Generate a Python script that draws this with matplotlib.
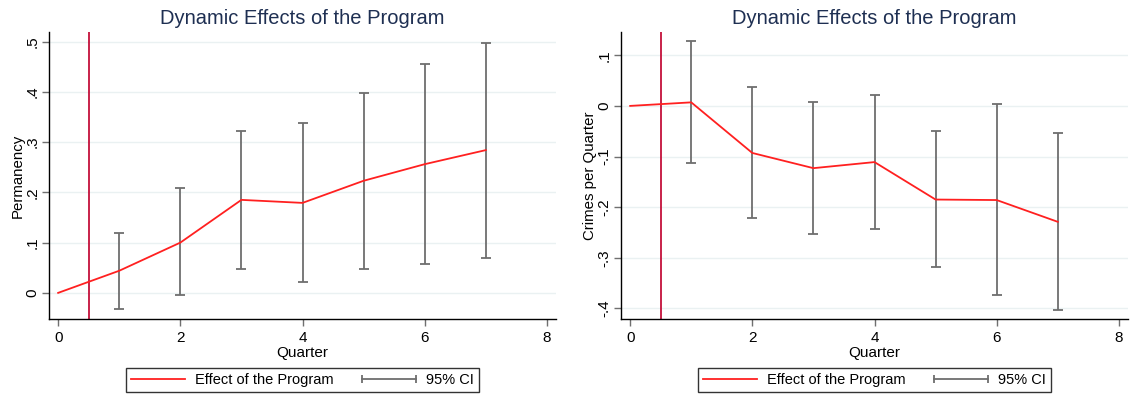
import matplotlib
matplotlib.use("Agg")
import matplotlib.pyplot as plt
from matplotlib.lines import Line2D
from matplotlib.legend_handler import HandlerLine2D
from matplotlib.ticker import FuncFormatter

plt.rcParams['font.family'] = ['Liberation Sans', 'DejaVu Sans']

quarters = [0, 1, 2, 3, 4, 5, 6, 7]

# Permanency
perm_effect = [0.0, 0.044, 0.100, 0.185, 0.179, 0.223, 0.256, 0.284]
perm_lo = [None, -0.033, -0.005, 0.047, 0.021, 0.048, 0.058, 0.070]
perm_hi = [None, 0.120, 0.208, 0.323, 0.338, 0.397, 0.455, 0.498]
perm_yticks = [0, 0.1, 0.2, 0.3, 0.4, 0.5]

# Crimes per quarter
crime_effect = [0.0, 0.007, -0.093, -0.123, -0.111, -0.185, -0.186, -0.229]
crime_lo = [None, -0.113, -0.222, -0.253, -0.244, -0.319, -0.374, -0.403]
crime_hi = [None, 0.128, 0.037, 0.007, 0.022, -0.049, 0.003, -0.054]
crime_yticks = [-0.4, -0.3, -0.2, -0.1, 0, 0.1]

xticks = [0, 2, 4, 6, 8]
treatment_start = 0.5

TITLE_COLOR = '#1e2f52'
EFFECT_COLOR = '#ff2020'
CI_COLOR = '#6e6e6e'
VLINE_COLOR = '#c4103a'
GRID_COLOR = '#eaf1f2'


def stata_fmt(v, pos):
    if abs(v) < 1e-9:
        return '0'
    s = f'{v:.1f}'
    return s.replace('0.', '.')


def panel(ax, effect, lo, hi, yticks, ylim, ylabel):
    ax.axvline(treatment_start, color=VLINE_COLOR, lw=1.3, zorder=2)
    xs = [q for q, l in zip(quarters, lo) if l is not None]
    los = [l for l in lo if l is not None]
    his = [h for h in hi if h is not None]
    ax.vlines(xs, los, his, color=CI_COLOR, lw=1.3, zorder=3)
    ax.plot(xs, los, linestyle='none', marker='_', ms=7, mew=1.3, color=CI_COLOR, zorder=3)
    ax.plot(xs, his, linestyle='none', marker='_', ms=7, mew=1.3, color=CI_COLOR, zorder=3)
    ax.plot(quarters, effect, color=EFFECT_COLOR, lw=1.3, zorder=4)

    ax.set_xlim(-0.15, 8.15)
    ax.set_ylim(*ylim)
    ax.set_xticks(xticks)
    ax.set_yticks(yticks)
    ax.yaxis.set_major_formatter(FuncFormatter(stata_fmt))
    ax.grid(axis='y', color=GRID_COLOR, lw=1.0, zorder=0)
    ax.set_axisbelow(True)
    for side in ('top', 'right'):
        ax.spines[side].set_visible(False)
    for side in ('left', 'bottom'):
        ax.spines[side].set_color('black')
        ax.spines[side].set_linewidth(1.0)
    ax.tick_params(axis='both', direction='out', length=5, width=1.0,
                   color='#707070', labelsize=11)
    ax.tick_params(axis='y', pad=2)
    for lab in ax.get_yticklabels():
        lab.set_rotation(90)
        lab.set_va('center')
    ax.set_title('Dynamic Effects of the Program', color=TITLE_COLOR,
                 fontsize=14.5, pad=6)
    ax.set_xlabel('Quarter', fontsize=11, labelpad=1)
    ax.set_ylabel(ylabel, fontsize=10.8, labelpad=0.5)

    effect_handle = Line2D([], [], color=EFFECT_COLOR, lw=1.3)
    ci_handle = Line2D([], [], color=CI_COLOR, lw=1.3, marker='|', ms=6, mew=1.3)
    leg = ax.legend([effect_handle, ci_handle], ['Effect of the Program', '95% CI'],
                    ncol=2, loc='upper center', bbox_to_anchor=(0.5, -0.171),
                    borderaxespad=0,
                    handler_map={ci_handle: HandlerLine2D(numpoints=2, marker_pad=0)},
                    frameon=True, fancybox=False, edgecolor='black',
                    fontsize=10.5, handlelength=3.7, columnspacing=1.9,
                    handletextpad=0.7, borderpad=0.35)
    leg.get_frame().set_linewidth(1.0)


fig = plt.figure(figsize=(11.3, 3.96), dpi=100)
ax1 = fig.add_axes([49 / 1130, 1 - 319 / 396, (556 - 49) / 1130, (319 - 32) / 396])
ax2 = fig.add_axes([621 / 1130, 1 - 319 / 396, (1128 - 621) / 1130, (319 - 32) / 396])

panel(ax1, perm_effect, perm_lo, perm_hi, perm_yticks, (-0.052, 0.519), 'Permanency')
panel(ax2, crime_effect, crime_lo, crime_hi, crime_yticks, (-0.421, 0.146), 'Crimes per Quarter')

fig.savefig('out.png', dpi=100, facecolor='white')
